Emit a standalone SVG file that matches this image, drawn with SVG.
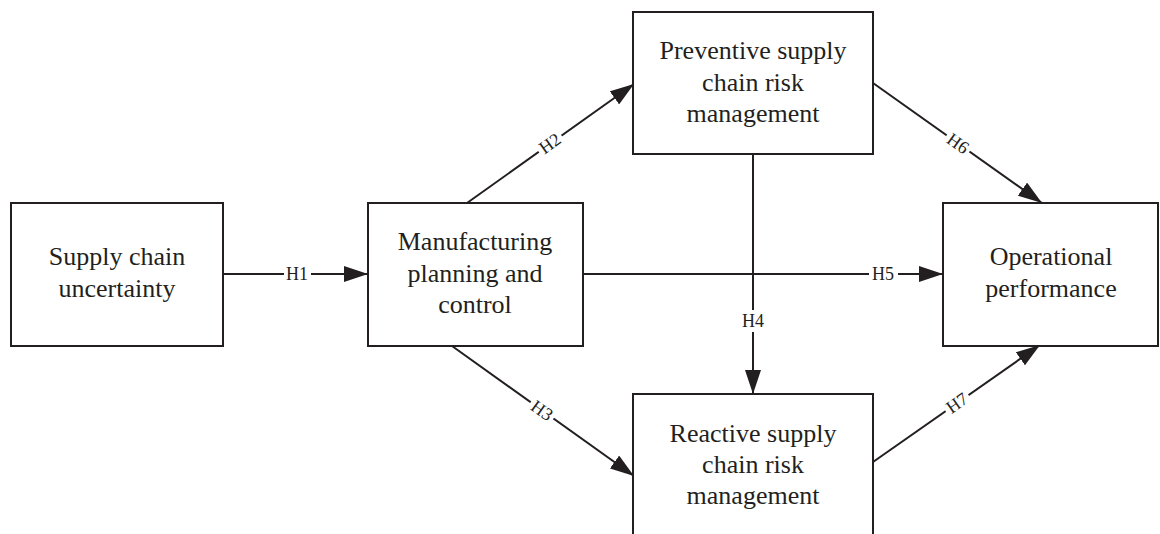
<svg xmlns="http://www.w3.org/2000/svg" width="1160" height="534" viewBox="0 0 1160 534">
  <style>
    .box { fill: #ffffff; stroke: #231f20; stroke-width: 2; }
    .node-text { font-family: "Liberation Serif", "Times New Roman", serif; font-size: 26px; fill: #231f20; text-anchor: middle; }
    .edge { stroke: #231f20; stroke-width: 2; fill: none; marker-end: url(#arrow); }
    .lbl { font-family: "Liberation Serif", "Times New Roman", serif; font-size: 18px; fill: #231f20; text-anchor: middle; }
    .lbl-bg { fill: #ffffff; }
  </style>
  <defs>
    <marker id="arrow" markerUnits="userSpaceOnUse" markerWidth="24" markerHeight="16" refX="24" refY="8" orient="auto">
      <path d="M0,0 L24,8 L0,16 z" fill="#231f20"/>
    </marker>
  </defs>
  <rect width="1160" height="534" fill="#ffffff"/>

  <!-- connectors -->
  <g id="connectors">
    <!-- H1 -->
    <line class="edge" x1="224" y1="274" x2="368" y2="274"/>
    <rect class="lbl-bg" x="284" y="263" width="27" height="22"/>
    <text class="lbl" x="297" y="280">H1</text>

    <!-- H5 (drawn before H4 so the vertical crosses over) -->
    <line class="edge" x1="583" y1="274" x2="943" y2="274"/>
    <rect class="lbl-bg" x="869" y="263" width="29" height="22"/>
    <text class="lbl" x="883" y="280">H5</text>

    <!-- H4 -->
    <line class="edge" x1="753" y1="154" x2="753" y2="394"/>
    <rect class="lbl-bg" x="739" y="310" width="28" height="22"/>
    <text class="lbl" x="753" y="327">H4</text>

    <!-- H2 -->
    <line class="edge" x1="467" y1="203" x2="634" y2="84"/>
    <g transform="translate(550,143.5) rotate(-35.5)">
      <rect class="lbl-bg" x="-14" y="-8" width="28" height="16"/>
      <text class="lbl" x="0" y="6">H2</text>
    </g>

    <!-- H3 -->
    <line class="edge" x1="452" y1="346" x2="634" y2="476"/>
    <g transform="translate(542,410.5) rotate(35.5)">
      <rect class="lbl-bg" x="-14" y="-8" width="28" height="16"/>
      <text class="lbl" x="0" y="6">H3</text>
    </g>

    <!-- H6 -->
    <line class="edge" x1="873" y1="83" x2="1042" y2="203"/>
    <g transform="translate(958,143.5) rotate(35.4)">
      <rect class="lbl-bg" x="-14" y="-8" width="28" height="16"/>
      <text class="lbl" x="0" y="6">H6</text>
    </g>

    <!-- H7 -->
    <line class="edge" x1="873" y1="462" x2="1040" y2="345"/>
    <g transform="translate(957,403) rotate(-35)">
      <rect class="lbl-bg" x="-14" y="-8" width="28" height="16"/>
      <text class="lbl" x="0" y="6">H7</text>
    </g>
  </g>

  <!-- nodes -->
  <g id="supply-chain-uncertainty">
    <rect class="box" x="11" y="203" width="212" height="143"/>
    <text class="node-text" x="117" y="265">Supply chain</text>
    <text class="node-text" x="117" y="297">uncertainty</text>
  </g>

  <g id="manufacturing-planning-control">
    <rect class="box" x="368" y="203" width="215" height="143"/>
    <text class="node-text" x="475" y="250">Manufacturing</text>
    <text class="node-text" x="475" y="282">planning and</text>
    <text class="node-text" x="475" y="313">control</text>
  </g>

  <g id="preventive-scrm">
    <rect class="box" x="633" y="12" width="240" height="142"/>
    <text class="node-text" x="753" y="59">Preventive supply</text>
    <text class="node-text" x="753" y="91">chain risk</text>
    <text class="node-text" x="753" y="122">management</text>
  </g>

  <g id="reactive-scrm">
    <rect class="box" x="633" y="394" width="240" height="150"/>
    <text class="node-text" x="753" y="442">Reactive supply</text>
    <text class="node-text" x="753" y="473">chain risk</text>
    <text class="node-text" x="753" y="504">management</text>
  </g>

  <g id="operational-performance">
    <rect class="box" x="943" y="203" width="215" height="143"/>
    <text class="node-text" x="1051" y="265">Operational</text>
    <text class="node-text" x="1051" y="297">performance</text>
  </g>
</svg>
